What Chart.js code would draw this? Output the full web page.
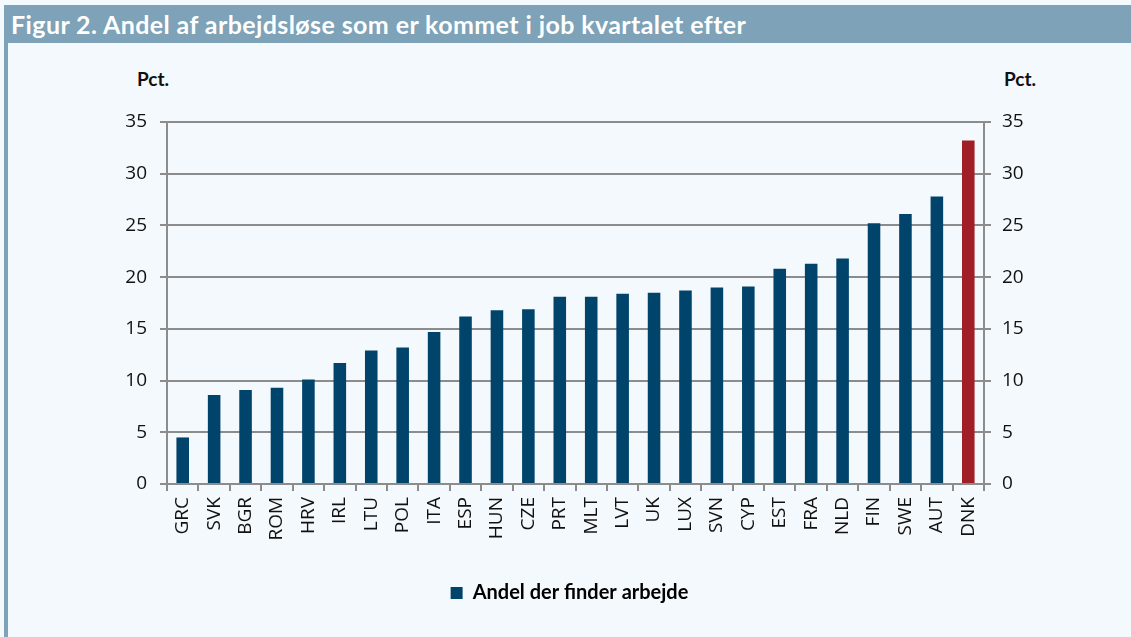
<!DOCTYPE html>
<html>
<head>
<meta charset="utf-8">
<script src="https://cdn.jsdelivr.net/npm/chart.js@4"></script>
<style>
    body {
        margin: 0;
        width: 1131px;
        height: 637px;
        background: #f4f9fd;
        overflow: hidden;
        position: relative;
        font-family: Lato, sans-serif;
    }
    #titel {
        position: absolute;
        left: 4px;
        top: 5px;
        right: 0;
        height: 38px;
        background: #7ea2b7;
        color: #fff;
        font-weight: 700;
        font-size: 25px;
        line-height: 39px;
        padding-left: 7px;
        letter-spacing: 0.4px;
        white-space: nowrap;
    }
    #kant {
        position: absolute;
        left: 4px;
        top: 43px;
        width: 4px;
        bottom: 0;
        background: #7ea2b7;
    }
    .pct {
        position: absolute;
        top: 67px;
        font-weight: 700;
        font-size: 19px;
        color: #111;
    }
    #wrap {
        position: absolute;
        left: 8px;
        top: 43px;
        width: 1123px;
        height: 594px;
    }
</style>
</head>
<body>
<div id="titel">Figur 2. Andel af arbejdsløse som er kommet i job kvartalet efter</div>
<div id="kant"></div>
<div class="pct" style="left:137px">Pct.</div>
<div class="pct" style="left:1004px">Pct.</div>
<div id="wrap"><canvas id="graf"></canvas></div>

<script>
    const lande = ["GRC", "SVK", "BGR", "ROM", "HRV", "IRL", "LTU", "POL", "ITA", "ESP", "HUN", "CZE", "PRT",
        "MLT", "LVT", "UK", "LUX", "SVN", "CYP", "EST", "FRA", "NLD", "FIN", "SWE", "AUT", "DNK"];

    const andel = [4.5, 8.6, 9.1, 9.3, 10.1, 11.7, 12.9, 13.2, 14.7, 16.2, 16.8, 16.9, 18.1,
        18.1, 18.4, 18.5, 18.7, 19.0, 19.1, 20.8, 21.3, 21.8, 25.2, 26.1, 27.8, 33.2];

    const yTicks = [0, 5, 10, 15, 20, 25, 30, 35];

    const blaa = "#00446b";
    const roed = "#a01f26";
    const graa = "#8c8c8c";
    const tickFont = { family: "'Open Sans', sans-serif", size: 19 };

    const yAkse = (side) => ({
        position: side,
        min: 0,
        max: 35,
        afterBuildTicks: (scale) => { scale.ticks = yTicks.map(v => ({ value: v })); },
        afterFit: (scale) => { scale.width = side === "left" ? 159 : 147; },
        border: { display: true, color: graa, width: 2 },
        grid: {
            color: graa,
            lineWidth: 2,
            tickLength: 7,
            drawOnChartArea: side === "left"
        },
        ticks: { color: "#111", font: tickFont, padding: side === "left" ? 13 : 11 }
    });

    new Chart(document.getElementById("graf"), {
        type: "bar",
        data: {
            labels: lande,
            datasets: [{
                label: "Andel der finder arbejde",
                data: andel,
                backgroundColor: (ctx) => ctx.dataIndex === lande.indexOf("DNK") ? roed : blaa,
                borderWidth: 0,
                barPercentage: 0.8,
                categoryPercentage: 0.5,
                yAxisID: "y"
            }]
        },
        options: {
            responsive: true,
            maintainAspectRatio: false,
            animation: false,
            layout: { padding: { top: 79, bottom: 24, left: 0, right: 0 } },
            plugins: {
                legend: {
                    position: "bottom",
                    labels: {
                        boxWidth: 12,
                        boxHeight: 12,
                        padding: 16,
                        color: "#111",
                        font: { family: "Lato, sans-serif", size: 20, weight: "bold" },
                        generateLabels: (chart) => [{
                            text: chart.data.datasets[0].label,
                            fillStyle: blaa,
                            strokeStyle: blaa,
                            lineWidth: 0,
                            datasetIndex: 0
                        }]
                    }
                },
                tooltip: { enabled: false }
            },
            scales: {
                x: {
                    border: { display: true, color: graa, width: 2 },
                    grid: { drawOnChartArea: false, color: graa, lineWidth: 2, tickLength: 7 },
                    afterFit: (scale) => { scale.height = 83; },
                    ticks: { color: "#111", font: tickFont, maxRotation: 90, minRotation: 90, padding: 6, autoSkip: false }
                },
                y: yAkse("left"),
                y2: yAkse("right")
            }
        }
    });
</script>
</body>
</html>
